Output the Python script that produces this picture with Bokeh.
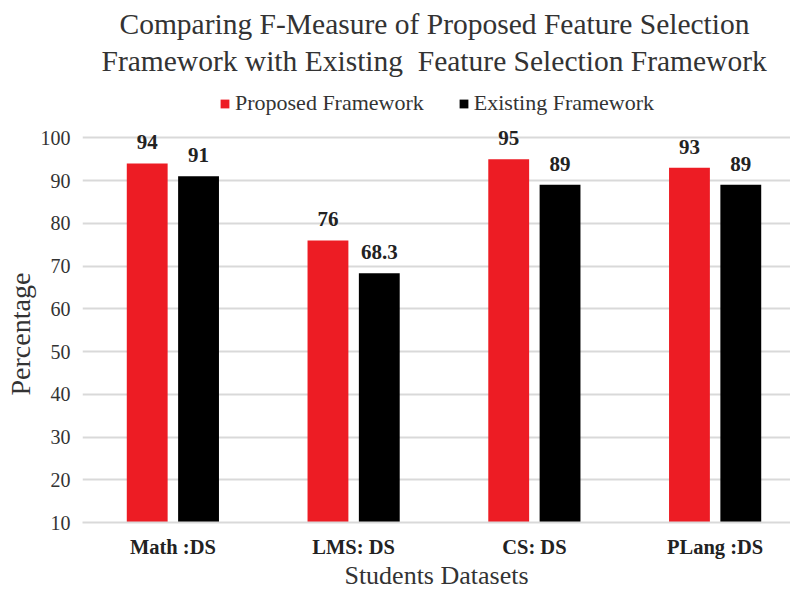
from bokeh.plotting import figure
from bokeh.models import (ColumnDataSource, Range1d, FixedTicker, Legend, LegendItem,
                          Title)
from bokeh.embed import file_html
from bokeh.resources import INLINE

# Data
datasets = ["Math :DS", "LMS: DS", "CS: DS", "PLang :DS"]
proposed = [94, 76, 95, 93]
existing = [91, 68.3, 89, 89]
y_ticks = [10, 20, 30, 40, 50, 60, 70, 80, 90, 100]
title_lines = ["Comparing F-Measure of Proposed Feature Selection",
               "Framework with Existing\u00a0 Feature Selection Framework"]

SERIF = "Liberation Serif"
RED = "#ED1C24"
BLACK = "#000000"
GRID = "#d9d9d9"
TXT = "#333333"

idx = list(range(len(datasets)))
dodge = 0.142
bar_w = 0.226

src_p = ColumnDataSource(dict(
    x=[i - dodge for i in idx], top=proposed,
    label=[f"{v:g}" for v in proposed]))
src_e = ColumnDataSource(dict(
    x=[i + dodge for i in idx], top=existing,
    label=[f"{v:g}" for v in existing]))

p = figure(width=790, height=592, output_backend="svg", toolbar_location=None,
           x_range=Range1d(-0.5, 3.417), y_range=Range1d(10, 112),
           min_border_left=81, min_border_right=0, min_border_top=86,
           min_border_bottom=70, outline_line_color=None,
           background_fill_color="white", border_fill_color="white")

r_p = p.vbar(x="x", top="top", bottom=10, width=bar_w, source=src_p,
             fill_color=RED, line_color=None)
r_e = p.vbar(x="x", top="top", bottom=10, width=bar_w, source=src_e,
             fill_color=BLACK, line_color=None)

for src in (src_p, src_e):
    p.text(x="x", y="top", text="label", source=src, text_align="center",
           text_baseline="alphabetic", y_offset=-21,
           text_font="Liberation Serif", text_font_size="21px",
           text_font_style="bold", text_color="#222222")

# Two-line title, one Title per line (first added sits nearest the plot)
p.title.visible = False
for line, standoff, offset in ((title_lines[1], 19, 19), (title_lines[0], -12, 37)):
    p.add_layout(Title(text=line, align="left", offset=offset, standoff=standoff,
                       text_font=SERIF, text_font_size="29.5px",
                       text_font_style="normal", text_color=TXT), "above")

# Legend, sitting just above the top gridline
legend = Legend(items=[LegendItem(label="Proposed Framework", renderers=[r_p]),
                       LegendItem(label="Existing Framework", renderers=[r_e])],
                orientation="horizontal", location=(137, 406),
                glyph_width=11, glyph_height=11, label_standoff=5, spacing=34,
                label_text_font=SERIF, label_text_font_size="22px",
                label_text_color=TXT, background_fill_alpha=0,
                border_line_color=None, padding=0, margin=0)
p.add_layout(legend)

# Axes
p.xaxis.ticker = FixedTicker(ticks=idx)
p.xaxis.major_label_overrides = {i: name for i, name in zip(idx, datasets)}
p.xaxis.axis_line_color = GRID
p.xaxis.axis_line_width = 2
p.xaxis.major_tick_line_color = None
p.xaxis.minor_tick_line_color = None
p.xaxis.major_label_text_font = SERIF
p.xaxis.major_label_text_font_size = "20.5px"
p.xaxis.major_label_text_font_style = "bold"
p.xaxis.major_label_text_color = "#222222"
p.xaxis.major_label_standoff = 7
p.xaxis.axis_label = "Students Datasets"
p.xaxis.axis_label_text_font = SERIF
p.xaxis.axis_label_text_font_size = "26px"
p.xaxis.axis_label_text_font_style = "normal"
p.xaxis.axis_label_text_color = TXT
p.xaxis.axis_label_standoff = 0

p.yaxis.ticker = FixedTicker(ticks=y_ticks)
p.yaxis.axis_line_color = None
p.yaxis.major_tick_line_color = None
p.yaxis.minor_tick_line_color = None
p.yaxis.major_label_text_font = SERIF
p.yaxis.major_label_text_font_size = "20px"
p.yaxis.major_label_text_color = TXT
p.yaxis.major_label_standoff = 6

# Y-axis title, placed along the 10-100 span
p.add_layout(Title(text="Percentage", align="left", offset=127, standoff=4,
                   text_font=SERIF, text_font_size="28px",
                   text_font_style="normal", text_color=TXT), "left")

p.xgrid.grid_line_color = None
p.ygrid.grid_line_color = GRID
p.ygrid.grid_line_width = 2

open("out.html", "w").write(file_html(p, INLINE))
